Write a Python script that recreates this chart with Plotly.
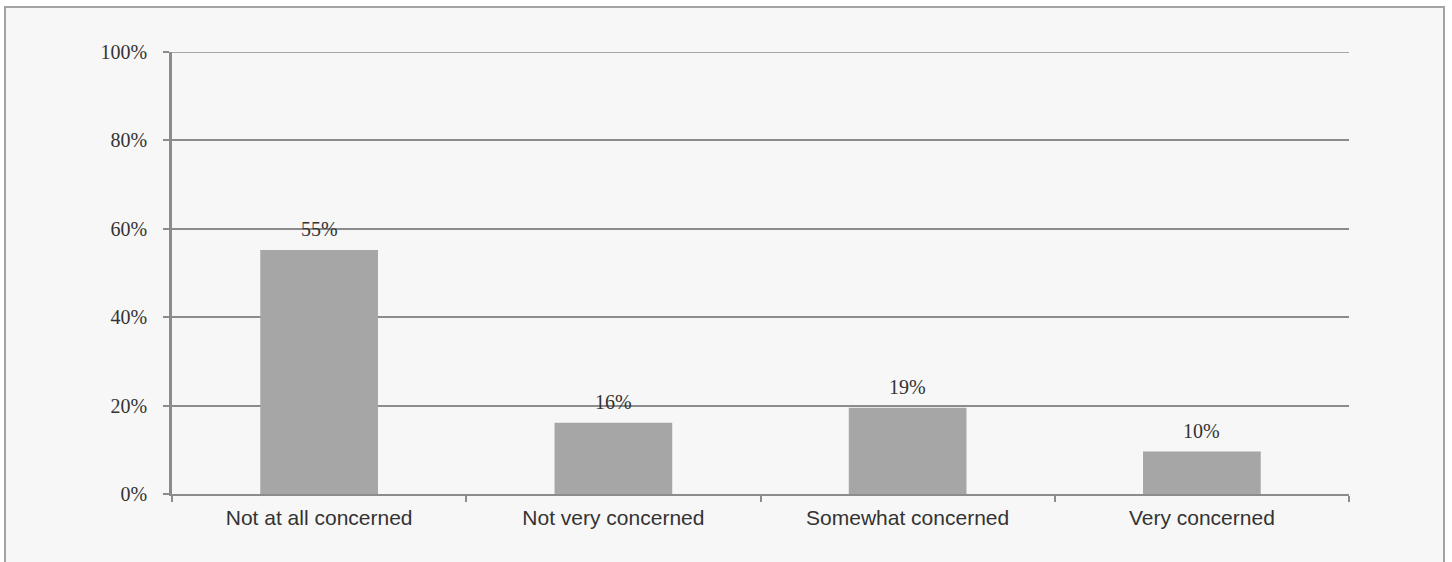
import plotly.graph_objects as go

categories = ["Not at all concerned", "Not very concerned", "Somewhat concerned", "Very concerned"]
values = [55.2, 16.1, 19.5, 9.6]
value_labels = ["55%", "16%", "19%", "10%"]
y_ticks = [0, 20, 40, 60, 80, 100]
y_tick_labels = ["0%", "20%", "40%", "60%", "80%", "100%"]

W, H = 1452, 562
L, R, T, B = 172, 103, 52, 68
pw, ph = W - L - R, H - T - B

fig = go.Figure()
fig.add_trace(go.Bar(
    x=categories, y=values,
    marker=dict(color="#a6a6a6", line=dict(width=0)),
    width=0.4, hoverinfo="skip",
))

for c, v, t in zip(categories, values, value_labels):
    fig.add_annotation(
        x=c, y=v, text=t, showarrow=False, xref="x", yref="y",
        yanchor="middle", yshift=21,
        font=dict(family="Liberation Serif", size=20, color="#333333"),
    )

# outer frame
fig.add_shape(
    type="rect", xref="paper", yref="paper", layer="below",
    x0=(5 - L) / pw, x1=(1444 - L) / pw,
    y0=-0.3, y1=(H - B - 7) / ph,
    fillcolor="#f7f7f7", line=dict(color="#a3a3a3", width=2),
)
# top gridline at the range edge
fig.add_shape(
    type="line", xref="paper", yref="y", layer="below",
    x0=0, x1=1, y0=y_ticks[-1], y1=y_ticks[-1],
    line=dict(color="#8c8c8c", width=1.5),
)

fig.update_layout(
    width=W, height=H,
    margin=dict(l=L, r=R, t=T, b=B, pad=0),
    paper_bgcolor="#ffffff",
    plot_bgcolor="rgba(0,0,0,0)",
    showlegend=False,
    bargap=0.6,
    xaxis=dict(
        type="category",
        showline=True, linecolor="#8c8c8c", linewidth=2,
        ticks="outside", tickson="boundaries", ticklen=6, tickcolor="#8c8c8c", tickwidth=1.5,
        showgrid=False,
        ticklabelstandoff=4,
        tickfont=dict(family="Liberation Sans", size=21, color="#333333"),
        range=[-0.5, 3.5],
    ),
    yaxis=dict(
        range=[0, 100],
        tickvals=y_ticks, ticktext=y_tick_labels,
        showline=True, linecolor="#8c8c8c", linewidth=2.5,
        ticks="outside", ticklen=6, tickcolor="#8c8c8c", tickwidth=1.5,
        showgrid=True, gridcolor="#8c8c8c", gridwidth=1.5,
        zeroline=False,
        ticklabelstandoff=12,
        tickfont=dict(family="Liberation Serif", size=20, color="#333333"),
    ),
)

fig.write_html(
    "out.html",
    config={"displayModeBar": False},
    post_script="document.body.style.margin='0';document.body.style.overflow='hidden';",
)
